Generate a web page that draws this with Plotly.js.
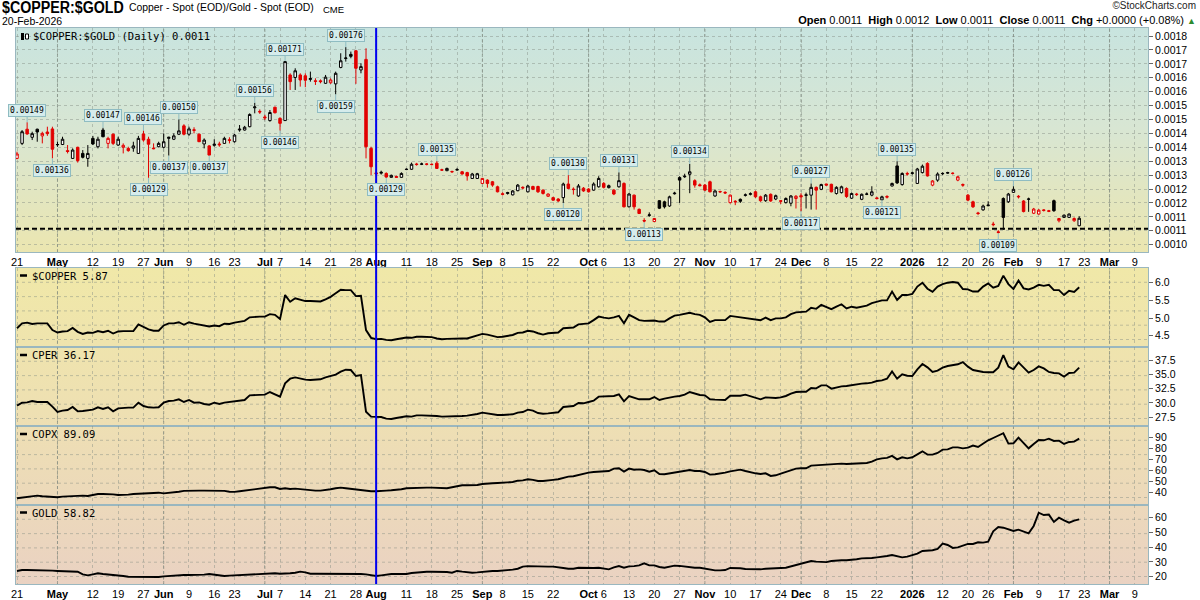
<!DOCTYPE html>
<html><head><meta charset="utf-8">
<script src="https://cdn.plot.ly/plotly-3.0.1.min.js"></script>
<style>
body{margin:0;background:#fff;width:1200px;height:600px;overflow:hidden;font-family:"Liberation Sans",Arial,sans-serif;}
#wrap{position:relative;width:1200px;height:600px;}
.bg{position:absolute;}
#bgMain{left:16px;top:28px;width:1132px;height:224px;background:linear-gradient(to bottom,#c8e4df 0%,#d8e6d3 45%,#ebe6b0 100%);}
#bgLow{left:16px;top:268px;width:1132px;height:316px;background:linear-gradient(to bottom,#f0e8a8 0%,#eee0b2 45%,#ead2c2 100%);}
#chart{position:absolute;left:0;top:0;width:1200px;height:600px;}
.hdr{position:absolute;white-space:nowrap;color:#000;line-height:1;}
</style></head>
<body><div id="wrap">
<div class="bg" id="bgMain"></div><div class="bg" id="bgLow"></div>
<div class="hdr" id="hTitle" style="left:2px;top:0px;font-weight:bold;font-size:16px;transform:scaleX(0.89);transform-origin:left top;">$COPPER:$GOLD</div>
<div class="hdr" style="left:129px;top:3px;font-size:10.4px;">Copper - Spot (EOD)/Gold - Spot (EOD)</div>
<div class="hdr" style="left:323px;top:5px;font-size:9.5px;">CME</div>
<div class="hdr" id="hDate" style="left:2px;top:16px;font-size:10.5px;">20-Feb-2026</div>
<div class="hdr" style="right:4px;top:1px;font-size:10px;color:#222;">©StockCharts.com</div>
<div class="hdr" id="hOhlc" style="right:4px;top:15px;font-size:11px;"></div>
<div id="chart"></div>
</div>
<script>
// ---------------- DATA ----------------
const firstDay = '2025-04-21';
const lastAxisDay = '2026-03-13';
const holidays = ['2025-05-26','2025-06-19','2025-07-04','2025-09-01','2025-11-27','2025-12-25','2026-01-01','2026-01-19','2026-02-16'];

const tickDates = ['2025-04-21','2025-05-01','2025-05-12','2025-05-19','2025-05-27','2025-06-02','2025-06-09','2025-06-16','2025-06-23','2025-07-01','2025-07-07','2025-07-14','2025-07-21','2025-07-28','2025-08-01','2025-08-11','2025-08-18','2025-08-25','2025-09-02','2025-09-08','2025-09-15','2025-09-22','2025-10-01','2025-10-06','2025-10-13','2025-10-20','2025-10-27','2025-11-03','2025-11-10','2025-11-17','2025-11-24','2025-12-01','2025-12-08','2025-12-15','2025-12-22','2026-01-02','2026-01-12','2026-01-20','2026-01-26','2026-02-02','2026-02-09','2026-02-17','2026-02-23','2026-03-02','2026-03-09'];
const tickLabels = ['21','May','12','19','27','Jun','9','16','23','Jul','7','14','21','28','Aug','11','18','25','Sep','8','15','22','Oct','6','13','20','27','Nov','10','17','24','Dec','8','15','22','2026','12','20','26','Feb','9','17','23','Mar','9'];
const boldLabels = ['May','Jun','Jul','Aug','Sep','Oct','Nov','Dec','2026','Feb','Mar'];

const priceTickVals = [0.0018,0.00175,0.0017,0.00165,0.0016,0.00155,0.0015,0.00145,0.0014,0.00135,0.0013,0.00125,0.0012,0.00115,0.0011,0.00105];
const priceTickText = ['0.0018','0.0017','0.0017','0.0016','0.0016','0.0015','0.0015','0.0014','0.0014','0.0013','0.0013','0.0012','0.0012','0.0011','0.0011','0.0010'];

const priorClose = 0.001390;
const openV = [0.001360,0.001414,0.001465,0.001436,0.001465,0.001441,0.001455,0.001466,0.001409,0.001410,
0.001388,0.001360,0.001400,0.001378,0.001360,0.001432,0.001402,0.001462,0.001414,0.001447,
0.001408,0.001400,0.001396,0.001397,0.001378,0.001448,0.001429,0.001397,0.001402,0.001400,
0.001432,0.001429,0.001447,0.001477,0.001447,0.001463,0.001447,0.001412,0.001405,0.001407,
0.001412,0.001414,0.001427,0.001420,0.001462,0.001462,0.001474,0.001542,0.001529,0.001509,
0.001496,0.001544,0.001504,0.001496,0.001660,0.001651,0.001660,0.001657,0.001644,0.001639,
0.001639,0.001630,0.001632,0.001628,0.001687,0.001719,0.001734,0.001747,0.001678,0.001716,
0.001396,0.001308,0.001307,0.001306,0.001292,0.001295,0.001292,0.001320,0.001321,0.001340,
0.001339,0.001340,0.001339,0.001343,0.001319,0.001316,0.001313,0.001318,0.001312,0.001309,
0.001288,0.001288,0.001270,0.001282,0.001276,0.001258,0.001233,0.001234,0.001229,0.001244,
0.001256,0.001240,0.001259,0.001259,0.001246,0.001224,0.001219,0.001214,0.001219,0.001268,
0.001250,0.001225,0.001253,0.001250,0.001246,0.001258,0.001270,0.001255,0.001246,0.001258,
0.001270,0.001186,0.001228,0.001177,0.001137,0.001155,0.001133,0.001208,0.001204,0.001189,
0.001233,0.001291,0.001294,0.001303,0.001280,0.001265,0.001264,0.001276,0.001225,0.001241,
0.001238,0.001201,0.001206,0.001213,0.001227,0.001231,0.001240,0.001222,0.001208,0.001231,
0.001214,0.001208,0.001201,0.001199,0.001216,0.001226,0.001227,0.001228,0.001256,0.001249,
0.001268,0.001267,0.001234,0.001237,0.001252,0.001217,0.001232,0.001213,0.001231,0.001228,
0.001218,0.001211,0.001223,0.001261,0.001333,0.001266,0.001306,0.001306,0.001270,0.001309,
0.001342,0.001264,0.001282,0.001305,0.001307,0.001307,0.001282,0.001266,0.001228,0.001204,
0.001164,0.001175,0.001190,0.001124,0.001096,0.001216,0.001204,0.001238,0.001224,0.001207,
0.001213,0.001163,0.001160,0.001175,0.001172,0.001208,0.001136,0.001148,0.001148,0.001136,
0.001118];
const highV = [0.001384,0.001462,0.001490,0.001456,0.001467,0.001456,0.001474,0.001474,0.001420,0.001438,
0.001408,0.001396,0.001402,0.001390,0.001408,0.001441,0.001438,0.001470,0.001438,0.001450,
0.001438,0.001414,0.001402,0.001420,0.001441,0.001460,0.001438,0.001414,0.001420,0.001450,
0.001438,0.001450,0.001500,0.001483,0.001474,0.001472,0.001450,0.001432,0.001408,0.001429,
0.001420,0.001438,0.001436,0.001448,0.001480,0.001477,0.001522,0.001560,0.001536,0.001516,
0.001534,0.001546,0.001508,0.001710,0.001666,0.001684,0.001666,0.001666,0.001672,0.001648,
0.001644,0.001660,0.001648,0.001672,0.001738,0.001760,0.001744,0.001750,0.001702,0.001756,
0.001402,0.001315,0.001316,0.001310,0.001302,0.001298,0.001310,0.001324,0.001345,0.001344,
0.001345,0.001343,0.001342,0.001350,0.001323,0.001327,0.001316,0.001326,0.001315,0.001312,
0.001308,0.001308,0.001290,0.001285,0.001279,0.001262,0.001238,0.001240,0.001246,0.001268,
0.001260,0.001265,0.001262,0.001262,0.001249,0.001234,0.001222,0.001217,0.001273,0.001300,
0.001256,0.001268,0.001257,0.001253,0.001274,0.001296,0.001275,0.001266,0.001250,0.001310,
0.001274,0.001236,0.001230,0.001180,0.001145,0.001166,0.001146,0.001210,0.001208,0.001226,
0.001240,0.001296,0.001305,0.001340,0.001285,0.001270,0.001268,0.001280,0.001248,0.001244,
0.001242,0.001230,0.001210,0.001216,0.001234,0.001238,0.001244,0.001226,0.001232,0.001234,
0.001230,0.001210,0.001220,0.001228,0.001228,0.001235,0.001237,0.001270,0.001259,0.001269,
0.001269,0.001269,0.001260,0.001262,0.001256,0.001237,0.001236,0.001234,0.001238,0.001260,
0.001222,0.001226,0.001228,0.001273,0.001350,0.001310,0.001312,0.001312,0.001326,0.001338,
0.001346,0.001282,0.001310,0.001310,0.001312,0.001310,0.001298,0.001270,0.001232,0.001208,
0.001168,0.001194,0.001206,0.001132,0.001102,0.001220,0.001236,0.001260,0.001228,0.001210,
0.001219,0.001182,0.001178,0.001178,0.001175,0.001212,0.001146,0.001158,0.001162,0.001148,
0.001152];
const lowV = [0.001357,0.001408,0.001445,0.001426,0.001420,0.001414,0.001441,0.001360,0.001402,0.001408,
0.001378,0.001358,0.001345,0.001360,0.001330,0.001408,0.001396,0.001436,0.001396,0.001408,
0.001405,0.001378,0.001384,0.001384,0.001376,0.001420,0.001290,0.001393,0.001400,0.001396,
0.001370,0.001426,0.001444,0.001443,0.001441,0.001450,0.001419,0.001396,0.001370,0.001402,
0.001402,0.001412,0.001414,0.001417,0.001456,0.001460,0.001472,0.001522,0.001520,0.001498,
0.001492,0.001522,0.001460,0.001495,0.001606,0.001606,0.001618,0.001616,0.001636,0.001624,
0.001630,0.001628,0.001628,0.001590,0.001684,0.001708,0.001720,0.001628,0.001666,0.001360,
0.001300,0.001298,0.001302,0.001290,0.001291,0.001291,0.001291,0.001318,0.001319,0.001334,
0.001336,0.001335,0.001335,0.001322,0.001315,0.001314,0.001308,0.001316,0.001302,0.001280,
0.001286,0.001286,0.001268,0.001255,0.001258,0.001238,0.001227,0.001230,0.001227,0.001242,
0.001249,0.001238,0.001246,0.001236,0.001230,0.001222,0.001208,0.001204,0.001200,0.001249,
0.001230,0.001222,0.001240,0.001238,0.001244,0.001255,0.001252,0.001252,0.001228,0.001255,
0.001184,0.001184,0.001176,0.001160,0.001130,0.001150,0.001132,0.001178,0.001180,0.001186,
0.001230,0.001200,0.001290,0.001235,0.001255,0.001260,0.001244,0.001238,0.001222,0.001236,
0.001232,0.001198,0.001192,0.001200,0.001223,0.001227,0.001218,0.001204,0.001204,0.001204,
0.001210,0.001196,0.001198,0.001188,0.001180,0.001170,0.001180,0.001176,0.001176,0.001246,
0.001262,0.001238,0.001230,0.001234,0.001218,0.001214,0.001225,0.001210,0.001228,0.001224,
0.001212,0.001210,0.001216,0.001259,0.001268,0.001262,0.001298,0.001302,0.001268,0.001306,
0.001295,0.001260,0.001276,0.001300,0.001304,0.001302,0.001278,0.001258,0.001206,0.001182,
0.001156,0.001172,0.001188,0.001116,0.001090,0.001103,0.001200,0.001236,0.001216,0.001166,
0.001168,0.001160,0.001158,0.001169,0.001167,0.001168,0.001130,0.001146,0.001146,0.001132,
0.001116];
const closeV = [0.001376,0.001456,0.001448,0.001449,0.001455,0.001450,0.001449,0.001393,0.001410,0.001429,
0.001385,0.001390,0.001352,0.001364,0.001378,0.001412,0.001429,0.001438,0.001432,0.001414,
0.001429,0.001407,0.001388,0.001405,0.001432,0.001426,0.001411,0.001395,0.001414,0.001420,
0.001436,0.001441,0.001459,0.001447,0.001466,0.001461,0.001420,0.001426,0.001372,0.001411,
0.001409,0.001432,0.001425,0.001444,0.001465,0.001472,0.001518,0.001545,0.001527,0.001506,
0.001525,0.001524,0.001486,0.001708,0.001636,0.001675,0.001642,0.001641,0.001647,0.001637,
0.001636,0.001652,0.001642,0.001666,0.001711,0.001721,0.001727,0.001684,0.001690,0.001402,
0.001330,0.001305,0.001310,0.001293,0.001299,0.001292,0.001306,0.001321,0.001339,0.001338,
0.001340,0.001339,0.001338,0.001324,0.001318,0.001324,0.001312,0.001320,0.001304,0.001297,
0.001304,0.001305,0.001288,0.001270,0.001264,0.001240,0.001231,0.001237,0.001243,0.001264,
0.001254,0.001261,0.001249,0.001240,0.001234,0.001232,0.001210,0.001207,0.001268,0.001252,
0.001248,0.001261,0.001243,0.001240,0.001268,0.001288,0.001256,0.001262,0.001232,0.001280,
0.001186,0.001232,0.001186,0.001162,0.001135,0.001157,0.001144,0.001181,0.001186,0.001222,
0.001235,0.001282,0.001296,0.001312,0.001264,0.001262,0.001246,0.001240,0.001243,0.001240,
0.001236,0.001228,0.001204,0.001206,0.001229,0.001233,0.001222,0.001208,0.001228,0.001207,
0.001226,0.001206,0.001216,0.001225,0.001224,0.001222,0.001229,0.001256,0.001246,0.001266,
0.001264,0.001240,0.001256,0.001258,0.001223,0.001234,0.001230,0.001231,0.001232,0.001240,
0.001216,0.001222,0.001221,0.001270,0.001272,0.001306,0.001304,0.001308,0.001322,0.001332,
0.001297,0.001279,0.001304,0.001306,0.001309,0.001306,0.001294,0.001264,0.001210,0.001186,
0.001162,0.001189,0.001192,0.001122,0.001094,0.001148,0.001232,0.001249,0.001222,0.001169,
0.001214,0.001178,0.001174,0.001173,0.001170,0.001172,0.001144,0.001156,0.001160,0.0011440,
0.0011449];

const copperSpot = [4.71,4.85,4.87,4.83,4.85,4.85,4.85,4.66,4.59,4.62,
4.63,4.72,4.61,4.55,4.59,4.58,4.63,4.60,4.64,4.56,
4.62,4.63,4.63,4.63,4.82,4.74,4.68,4.64,4.64,4.79,
4.85,4.85,4.88,4.81,4.88,4.84,4.82,4.79,4.76,4.79,
4.77,4.84,4.83,4.87,4.89,4.92,5.02,5.04,5.04,5.04,
5.11,5.09,4.97,5.65,5.46,5.56,5.53,5.48,5.48,5.48,
5.47,5.53,5.60,5.70,5.80,5.79,5.79,5.62,5.63,4.66,
4.44,4.40,4.41,4.38,4.37,4.40,4.42,4.45,4.44,4.47,
4.47,4.47,4.46,4.42,4.40,4.41,4.42,4.42,4.42,4.42,
4.47,4.51,4.55,4.53,4.49,4.46,4.47,4.49,4.52,4.58,
4.59,4.64,4.62,4.57,4.53,4.57,4.57,4.59,4.71,4.71,
4.73,4.82,4.83,4.85,4.94,5.04,5.01,4.99,5.02,5.06,
4.85,5.09,5.02,4.94,4.92,4.93,4.93,4.90,4.90,4.99,
5.07,5.09,5.13,5.15,5.11,5.09,5.02,4.89,4.94,4.93,
4.94,5.06,5.04,5.03,5.02,5.00,4.96,4.94,5.01,4.94,
4.99,4.99,5.02,5.11,5.16,5.16,5.18,5.29,5.26,5.37,
5.32,5.25,5.32,5.39,5.27,5.32,5.29,5.32,5.35,5.42,
5.46,5.50,5.50,5.75,5.51,5.65,5.65,5.68,5.89,6.00,
5.83,5.74,5.89,5.96,6.00,6.02,6.00,5.82,5.81,5.75,
5.75,5.89,5.98,5.86,5.91,6.20,5.96,5.82,6.06,5.84,
5.81,5.86,5.94,5.91,5.94,5.79,5.79,5.65,5.77,5.74,
5.87];
const cper = [29.53,30.05,30.11,30.34,30.17,30.23,30.17,29.36,28.42,28.66,
28.77,29.30,28.54,28.60,28.71,28.83,29.24,28.95,29.24,28.54,
29.06,29.18,29.18,29.18,30.05,29.47,29.24,29.18,29.24,30.05,
30.34,30.40,30.63,30.17,30.52,30.05,30.11,29.82,29.70,30.05,
29.82,30.05,30.17,30.29,30.46,30.52,31.33,31.39,31.39,31.45,
31.91,31.57,31.10,33.43,34.24,34.47,34.24,34.07,34.01,34.07,
34.13,34.47,34.77,34.94,35.46,35.81,35.75,34.71,34.88,28.48,
27.61,27.55,27.55,27.26,27.20,27.38,27.49,27.67,27.61,27.84,
27.84,27.84,27.84,27.73,27.61,27.61,27.61,27.67,27.73,27.79,
27.90,28.08,28.31,28.13,27.96,27.90,27.90,27.90,28.02,28.31,
28.42,28.83,28.66,28.25,28.13,28.19,28.25,28.37,29.30,29.36,
29.47,30.00,29.94,30.17,30.40,31.10,31.16,31.16,31.22,31.51,
30.29,31.22,30.93,30.64,30.64,30.64,31.04,30.52,30.75,30.98,
31.10,31.22,31.45,31.91,31.62,31.39,31.33,30.64,30.58,30.58,
30.52,31.27,31.22,31.27,31.45,31.22,30.98,30.64,30.98,30.87,
30.87,30.98,31.22,31.62,31.91,31.97,31.97,32.61,32.55,33.08,
33.08,32.50,32.73,32.90,32.96,33.14,33.25,33.37,33.43,33.54,
33.83,33.95,34.24,35.52,34.24,35.00,34.76,34.71,35.87,36.80,
36.22,35.41,35.64,36.16,36.45,36.57,36.75,37.15,36.34,35.75,
35.52,35.41,35.35,35.35,36.16,38.37,36.34,35.87,37.09,36.16,
35.29,35.75,36.39,36.04,35.41,35.23,35.17,34.59,35.23,35.29,
36.17];
const copx = [34.9,35.5,36.1,37.3,37.3,36.7,36.4,36.1,35.8,36.4,
36.7,37.0,37.6,37.3,37.0,37.9,38.8,38.8,38.8,38.5,
37.9,37.9,38.2,38.8,39.1,39.4,39.7,39.4,40.0,39.4,
39.7,40.3,40.9,41.6,41.9,41.9,41.9,41.9,41.9,41.9,
41.9,41.6,40.9,40.7,41.3,41.9,43.1,43.4,43.7,44.3,
44.9,44.9,43.4,44.0,43.4,43.7,43.1,42.5,42.2,41.9,
41.9,42.2,43.1,44.0,44.6,44.0,43.4,42.8,42.5,41.9,
41.3,41.3,41.3,41.9,42.2,42.5,43.1,44.0,44.3,44.6,
44.6,44.6,44.6,44.6,44.3,44.0,44.9,46.1,46.7,46.7,
46.7,47.0,47.9,48.5,48.5,48.8,49.4,49.4,49.7,50.9,
51.2,52.2,51.6,50.6,50.6,50.9,51.6,52.2,53.7,54.6,
54.9,56.1,57.3,58.2,58.8,59.1,59.4,59.7,61.9,62.2,
59.1,61.9,60.9,61.2,60.6,59.1,60.3,57.0,56.7,57.6,
58.2,58.8,59.7,60.6,59.7,59.7,58.8,56.4,56.7,57.3,
58.2,59.4,60.3,60.9,59.7,58.5,57.6,57.0,57.6,55.2,
55.8,57.3,58.8,60.0,61.9,62.2,62.2,64.6,64.9,65.5,
65.2,65.5,66.4,66.4,66.1,66.4,66.1,66.4,67.0,68.2,
70.3,71.2,71.6,73.4,70.3,72.2,71.2,72.2,74.6,77.6,
74.6,74.6,76.1,79.1,79.4,81.2,81.2,80.3,80.9,82.8,
81.5,84.6,87.6,89.7,91.5,94.0,84.6,84.9,90.0,85.5,
80.3,84.3,87.9,87.6,89.1,87.0,87.3,84.3,86.1,86.4,
89.09];
const gold = [23.9,24.5,24.5,24.5,24.5,24.3,24.1,24.1,23.9,23.9,
23.9,23.9,23.4,21.6,20.9,21.6,22.3,21.8,21.6,21.1,
20.7,20.5,20.0,20.0,19.8,20.0,19.6,19.6,19.8,20.2,
20.5,20.7,21.1,21.1,21.1,21.1,21.1,21.4,21.8,21.4,
20.9,20.5,20.7,20.9,21.1,21.6,21.8,21.6,21.8,22.0,
22.3,22.3,22.0,22.0,22.3,22.7,23.4,22.9,22.0,22.0,
22.0,21.8,22.0,22.3,22.3,21.8,21.8,21.8,21.8,21.6,
20.9,20.5,20.9,21.6,21.8,21.8,21.8,21.8,22.5,22.9,
23.4,23.4,23.4,23.4,23.4,23.2,22.7,23.9,23.4,22.9,
22.7,22.9,23.4,23.9,23.9,23.9,24.1,24.3,24.8,25.4,
26.8,27.2,27.0,26.8,26.8,26.8,26.8,26.6,25.9,25.4,
25.4,26.1,25.9,26.1,25.9,26.1,25.4,25.0,26.3,27.2,
26.1,27.0,27.2,27.7,29.1,27.7,27.7,26.6,26.1,26.8,
27.5,27.3,26.8,26.3,26.1,26.1,25.4,24.5,24.3,24.3,
24.5,25.9,25.9,25.7,25.2,25.0,25.0,25.0,25.4,25.7,
26.1,25.9,26.1,27.0,28.2,29.1,29.5,30.6,30.2,30.2,
29.9,30.6,31.1,31.1,31.1,31.3,31.8,32.4,32.4,32.7,
33.1,33.3,34.0,34.7,33.8,33.1,33.6,34.5,35.6,37.4,
37.6,37.9,38.8,42.4,41.5,39.5,39.9,41.3,42.2,42.2,
43.3,43.1,43.8,50.8,53.7,53.2,52.3,51.0,51.9,50.8,
49.4,54.4,63.4,61.8,62.1,57.1,60.0,58.2,56.6,58.0,
58.82];

const swingHighIdx = [2,17,25,32,47,53,65,83,109,119,133,157,174,197];
const swingLowIdx  = [7,26,30,38,52,63,73,108,124,155,171,194];
const markerDate = '2025-08-01';
const refLevel = 0.0011075;

// ---------------- BUILD ----------------
function buildTradingDays(start, end, hol){
  const out=[]; const hs=new Set(hol);
  let t=Date.parse(start+'T00:00:00Z'); const e=Date.parse(end+'T00:00:00Z');
  while(t<=e){ const d=new Date(t); const wd=d.getUTCDay(); const s=d.toISOString().slice(0,10);
    if(wd!==0&&wd!==6&&!hs.has(s)) out.push(s); t+=86400000; }
  return out;
}
const days = buildTradingDays(firstDay, lastAxisDay, holidays);
const N = closeV.length;
const xIdx = Array.from({length:N},(_,i)=>i);
const tickIdx = tickDates.map(d=>days.indexOf(d));
const tickText = tickLabels.map(l=>boldLabels.includes(l)?'<b>'+l+'</b>':l);
const blueIdx = days.indexOf(markerDate);
const xRange = [-0.2, 223.6];

// pixel helpers for the layout (plot area 16..1148 x, 28..584 y)
const L=16,R=1148,T=28,B=584;
const px = v => (v-L)/(R-L);
const py = v => (B-v)/(B-T);

// split candles by colour rule (close vs previous close)
const grp = {black:{x:[],o:[],h:[],l:[],c:[]}, red:{x:[],o:[],h:[],l:[],c:[]}};
for(let i=0;i<N;i++){
  const prev = i===0?priorClose:closeV[i-1];
  const g = closeV[i] < prev ? grp.red : grp.black;
  g.x.push(i); g.o.push(openV[i]); g.h.push(highV[i]); g.l.push(lowV[i]); g.c.push(closeV[i]);
}
function candle(g, col){
  return {type:'candlestick', x:g.x, open:g.o, high:g.h, low:g.l, close:g.c, xaxis:'x', yaxis:'y',
    increasing:{line:{color:col,width:1}, fillcolor:'#ffffff'},
    decreasing:{line:{color:col,width:1}, fillcolor:col},
    whiskerwidth:0, hoverinfo:'skip', showlegend:false};
}
const RED='#e20000';
function lineTrace(vals, ya){
  return {type:'scatter', mode:'lines', x:xIdx, y:vals, xaxis:'x2', yaxis:ya,
    line:{color:'#000', width:1.9}, hoverinfo:'skip', showlegend:false};
}
const traces = [candle(grp.black,'#000'), candle(grp.red,RED),
  lineTrace(copperSpot,'y2'), lineTrace(cper,'y3'), lineTrace(copx,'y4'), lineTrace(gold,'y5')];

const GRID='rgba(130,140,130,0.45)';
const BORDER='#9ab7bf';
const tf = {family:'Liberation Sans, Arial, sans-serif', size:10.5, color:'#000'};
function yAx(dom, rng, tv, tt, anchor){
  return {domain:dom, range:rng, anchor:anchor, side:'right', tickmode:'array', tickvals:tv, ticktext:tt,
    ticks:'outside', ticklen:4, tickcolor:'#666', showgrid:false, zeroline:false, showline:true, mirror:true,
    linecolor:BORDER, linewidth:1, tickfont:tf, fixedrange:true};
}
const xCommon = {range:xRange, tickmode:'array', tickvals:tickIdx, ticktext:tickText, ticks:'',
  showgrid:true, gridcolor:GRID, griddash:'3px,3px', gridwidth:1, zeroline:false, showline:true, mirror:'all',
  linecolor:BORDER, linewidth:1, tickfont:{family:'Liberation Sans, Arial, sans-serif', size:11, color:'#000'},
  fixedrange:true, rangeslider:{visible:false}};

const layout = {
  width:1200, height:600, margin:{l:L, r:1200-R, t:T, b:600-B},
  paper_bgcolor:'rgba(0,0,0,0)', plot_bgcolor:'rgba(0,0,0,0)', showlegend:false, hovermode:false,
  xaxis:Object.assign({domain:[0,1], anchor:'y'}, xCommon),
  xaxis2:Object.assign({domain:[0,1], anchor:'y5', matches:'x'}, xCommon),
  yaxis:Object.assign(yAx([py(252),1],[0.0010236,0.0018288],priceTickVals,priceTickText,'x'),
        {showgrid:true, gridcolor:GRID, griddash:'3px,3px'}),
  yaxis2:yAx([py(347),py(268)],[4.18,6.416],[4.5,5,5.5,6],['4.5','5.0','5.5','6.0'],'x2'),
  yaxis3:yAx([py(426),py(347)],[25.98,39.77],[27.5,30,32.5,35,37.5],['27.5','30.0','32.5','35.0','37.5'],'x2'),
  yaxis4:yAx([py(505),py(426)],[28.8,100.6],[40,50,60,70,80,90],['40','50','60','70','80','90'],'x2'),
  yaxis5:yAx([0,py(505)],[15.05,68.6],[20,30,40,50,60],['20','30','40','50','60'],'x2'),
  shapes:[], annotations:[]
};

// lower-panel horizontal grid and month lines
[268,347,426,505].forEach(top=>{
  for(let k=1;k<=5;k++){
    const yy=py(top+14.3*k);
    layout.shapes.push({type:'line', xref:'paper', yref:'paper', x0:0, x1:1, y0:yy, y1:yy, layer:'below',
      line:{color:GRID, width:1, dash:'3px,3px'}});
  }
});
tickLabels.forEach((l,j)=>{
  if(!boldLabels.includes(l)) return;
  [[py(252),1],[0,py(268)]].forEach(r=>layout.shapes.push({type:'line', xref:'x', yref:'paper',
    x0:tickIdx[j], x1:tickIdx[j], y0:r[0], y1:r[1], layer:'below', line:{color:'rgba(110,120,110,0.6)', width:1, dash:'3px,2px'}}));
});
// reference level and date marker
layout.shapes.push({type:'line', xref:'paper', x0:0, x1:1, yref:'y', y0:refLevel, y1:refLevel,
  line:{color:'#000', width:2, dash:'5px,3px'}});
layout.shapes.push({type:'line', xref:'x', x0:blueIdx, x1:blueIdx, yref:'paper', y0:0, y1:1,
  line:{color:'#0000f0', width:2}});

// callout labels on swing highs / lows
const cal = {showarrow:true, arrowhead:0, arrowwidth:1, arrowcolor:'#8fbcc2', ax:0,
  bgcolor:'#d5ecec', bordercolor:'#8fbcc2', borderwidth:1, borderpad:1,
  font:{family:'DejaVu Sans Mono, monospace', size:8, color:'#000'}, xref:'x', yref:'y'};
swingHighIdx.forEach(i=>layout.annotations.push(Object.assign({}, cal, {x:i, y:highV[i], ay:-12, text:highV[i].toFixed(5)})));
swingLowIdx.forEach(i=>layout.annotations.push(Object.assign({}, cal, {x:i, y:lowV[i], ay:12, text:lowV[i].toFixed(5)})));

// panel legends
const mono = {family:'DejaVu Sans Mono, monospace', size:10.5, color:'#000'};
layout.annotations.push({xref:'paper', yref:'paper', x:px(31), y:py(36), xanchor:'left', yanchor:'middle', showarrow:false,
  text:'$COPPER:$GOLD (Daily) '+closeV[N-1].toFixed(4), font:mono});
layout.shapes.push({type:'rect', xref:'paper', yref:'paper', x0:px(21), x1:px(24), y0:py(40), y1:py(33), fillcolor:'#000', line:{width:0}});
layout.shapes.push({type:'rect', xref:'paper', yref:'paper', x0:px(25.5), x1:px(28.5), y0:py(39), y1:py(34), fillcolor:'#fff', line:{color:'#000', width:1}});
[['$COPPER',copperSpot,275.5],['CPER',cper,355],['COPX',copx,434],['GOLD',gold,512.5]].forEach(p=>{
  layout.shapes.push({type:'line', xref:'paper', yref:'paper', x0:px(20), x1:px(27), y0:py(p[2]), y1:py(p[2]), line:{color:'#000', width:2.5}});
  layout.annotations.push({xref:'paper', yref:'paper', x:px(30), y:py(p[2]), xanchor:'left', yanchor:'middle', showarrow:false,
    text:p[0]+' '+p[1][p[1].length-1].toFixed(2), font:mono});
});

// header OHLC line from the last bar
const pc = closeV[N-2], cl = closeV[N-1], chg = cl-pc, pct = chg/pc*100;
const sg = v => (v>=0?'+':'-');
document.getElementById('hOhlc').innerHTML =
  '<b>Open</b> '+openV[N-1].toFixed(4)+'&nbsp; <b>High</b> '+highV[N-1].toFixed(4)+'&nbsp; <b>Low</b> '+lowV[N-1].toFixed(4)+
  '&nbsp; <b>Close</b> '+cl.toFixed(4)+'&nbsp; <b>Chg</b> '+sg(chg)+Math.abs(chg).toFixed(4)+' ('+sg(pct)+Math.abs(pct).toFixed(2)+'%) '+
  '<span style="color:#2e8b2e;font-size:9px;">▲</span>';

Plotly.newPlot('chart', traces, layout, {displayModeBar:false, staticPlot:true});
</script>
</body></html>
